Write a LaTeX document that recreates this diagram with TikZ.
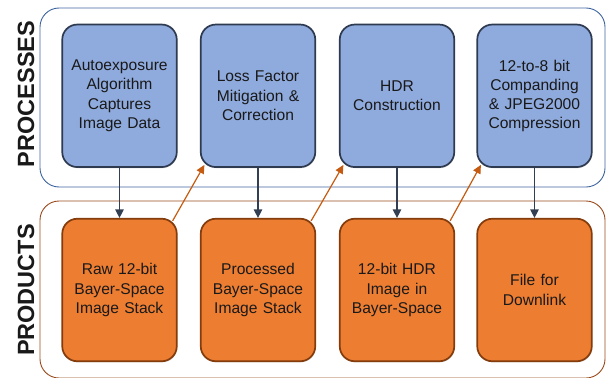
\documentclass[tikz,border=0pt]{standalone}
\usepackage{fontspec}
\setmainfont{Liberation Sans}
\usetikzlibrary{arrows.meta,calc,shadows}

\definecolor{procfill}{HTML}{8FAADC}
\definecolor{procedge}{HTML}{2E3A50}
\definecolor{prodfill}{HTML}{ED7D31}
\definecolor{prodedge}{HTML}{843C0C}
\definecolor{frameblue}{HTML}{3E64A0}
\definecolor{framebrown}{HTML}{9A4A1C}
\definecolor{downline}{HTML}{323F52}
\definecolor{upline}{HTML}{C55A11}

\tikzset{
  frame/.style={rounded corners=19pt, line width=0.9pt, minimum width=565pt, inner sep=0pt},
  procframe/.style={frame, draw=frameblue, minimum height=179pt},
  prodframe/.style={frame, draw=framebrown, minimum height=177pt},
  stepbox/.style={rounded corners=15pt, line width=1.7pt, minimum width=114.5pt,
    minimum height=142.5pt, inner sep=0pt, align=center, text width=110pt,
    font=\fontsize{15.6pt}{19.2pt}\selectfont, text=black!90,
    drop shadow={shadow xshift=0.6pt, shadow yshift=-1.2pt, opacity=0.25}},
  procbox/.style={stepbox, draw=procedge, fill=procfill},
  prodbox/.style={stepbox, draw=prodedge, fill=prodfill},
  sidelabel/.style={rotate=90, font=\fontsize{23.5pt}{26pt}\selectfont\bfseries, text=black!90},
  down/.style={draw=downline, line width=1.2pt, -{Triangle[width=8.5pt,length=8.5pt]}},
  up/.style={draw=upline, line width=1.2pt, -{Triangle[width=8pt,length=8.5pt]}}
}

\begin{document}
\begin{tikzpicture}[x=1pt, y=-1pt]
\useasboundingbox (0,0) rectangle (609,377);

% group frames
\node[procframe] (procs) at (322.5,97.5) {};
\node[prodframe] (prods) at (322.5,289.5) {};

% side labels
\node[sidelabel] (proclabel) at (26,94) {PROCESSES};
\node[sidelabel] (prodlabel) at (26,290) {PRODUCTS};

% processes
\node[procbox] (p1) at (119.5,95.8) {Autoexposure\\Algorithm\\Captures\\Image Data};
\node[procbox] (p2) at (258,95.8) {Loss Factor\\Mitigation \&\\Correction};
\node[procbox] (p3) at (397,95.8) {HDR\\Construction};
\node[procbox] (p4) at (534.5,95.8) {12-to-8 bit\\Companding\\\& JPEG2000\\Compression};

% products
\node[prodbox] (o1) at (119.5,290) {Raw 12-bit\\Bayer-Space\\Image Stack};
\node[prodbox] (o2) at (258,290) {Processed\\Bayer-Space\\Image Stack};
\node[prodbox] (o3) at (397,290) {12-bit HDR\\Image in\\Bayer-Space};
\node[prodbox] (o4) at (534.5,290) {File for\\Downlink};

% each process yields a product
\foreach \i in {1,...,4}
  \draw[down] (p\i.south) -- (o\i.north);

% each product feeds the next process
\foreach \i/\j in {1/2,2/3,3/4}
  \draw[up] ($(o\i.north east)+(-5,3)$) -- ($(p\j.south west)+(4.5,-3)$);
\end{tikzpicture}
\end{document}
